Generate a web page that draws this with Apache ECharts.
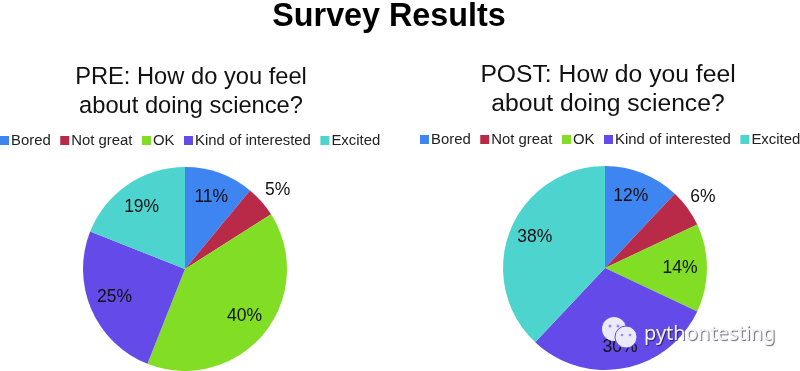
<!DOCTYPE html>
<html><head><meta charset="utf-8">
<style>html,body{margin:0;padding:0;background:#fff}#c{width:800px;height:371px}</style>
<script src="https://cdn.jsdelivr.net/npm/echarts@6/dist/echarts.min.js"></script>
</head><body><div id="c"></div>
<script>
const categories = ['Bored','Not great','OK','Kind of interested','Excited'];
const colors = ['#3F85F2','#B92A48','#82DE25','#644AE8','#4ED4CF'];
const preValues = [11,5,40,25,19];
const postValues = [12,6,14,30,38];
const preOutside = ['Not great'];
const postOutside = ['Not great'];
const preLabelShift = [[8,-21],[-1,-7],[18,13],[-21,7],[-13,-17]];
const postLabelShift = [[6,-22],[-2,-7],[21,0],[5,26],[-20,-11]];
const font = '"Liberation Sans", Arial, sans-serif';
function pieData(vals, outside){
  return categories.map((n,i)=>({name:n,value:vals[i],
    label: outside.includes(n)?{position:'outside',distanceToLabelLine:0}:{position:'inside'},
    labelLine:{show:false,length:6,length2:0}}));
}
function pie(vals,outside,center,name,shift){
  return {type:'pie',name,radius:[0,102],center,startAngle:90,clockwise:true,
    silent:true,animation:false,minShowLabelAngle:0,
    data:pieData(vals,outside),
    itemStyle:{borderWidth:0},
    labelLayout:p=>({dx:shift[p.dataIndex][0],dy:shift[p.dataIndex][1]}),
    label:{show:true,formatter:'{d}%',fontFamily:font,fontSize:17.5,color:'#111'}};
}
const legendBase={data:categories,icon:'rect',itemWidth:9,itemHeight:9,itemGap:9.5,width:420,
  textStyle:{fontFamily:font,fontSize:14.9,color:'#222',padding:[0,0,0,-3]},selectedMode:false,orient:'horizontal'};
const chart=echarts.init(document.getElementById('c'),null,{renderer:'canvas'});
chart.setOption({
  animation:false,color:colors,
  title:[
    {text:'Survey Results',left:384,top:-4,textAlign:'center',textStyle:{fontFamily:font,fontSize:32.3,fontWeight:'bold',color:'#000'}},
    {text:'PRE: How do you feel\nabout doing science?',left:186,top:58,textAlign:'center',textStyle:{fontFamily:font,fontSize:23.7,fontWeight:'normal',color:'#111',lineHeight:29}},
    {text:'POST: How do you feel\nabout doing science?',left:603,top:56,textAlign:'center',textStyle:{fontFamily:font,fontSize:24.7,fontWeight:'normal',color:'#111',lineHeight:29}}
  ],
  legend:[
    Object.assign({},legendBase,{left:-5,top:128}),
    Object.assign({},legendBase,{left:415,top:127})
  ],
  series:[pie(preValues,preOutside,[185,269],'PRE',preLabelShift),pie(postValues,postOutside,[605,268],'POST',postLabelShift)],
  graphic:[
    {type:'circle',shape:{cx:614,cy:329,r:12},style:{fill:'#ECE9FB'},z:50},
    {type:'circle',shape:{cx:610,cy:326,r:1.5},style:{fill:'#9A8CEB'},z:50},
    {type:'circle',shape:{cx:618,cy:326,r:1.5},style:{fill:'#9A8CEB'},z:50},
    {type:'circle',shape:{cx:626,cy:337,r:11},style:{fill:'#ECE9FB',stroke:'#644AE8',lineWidth:1},z:51},
    {type:'circle',shape:{cx:622,cy:335,r:1.3},style:{fill:'#9A8CEB'},z:52},
    {type:'circle',shape:{cx:630,cy:335,r:1.3},style:{fill:'#9A8CEB'},z:52},
    {type:'text',left:644,top:324,z:52,style:{text:'pythontesting',fontFamily:'"Noto Sans", sans-serif',fontSize:20,fill:'#F4F2FF',textShadowColor:'rgba(0,0,0,0.6)',textShadowBlur:1,textShadowOffsetX:1,textShadowOffsetY:1}}
  ]
});
</script></body></html>
